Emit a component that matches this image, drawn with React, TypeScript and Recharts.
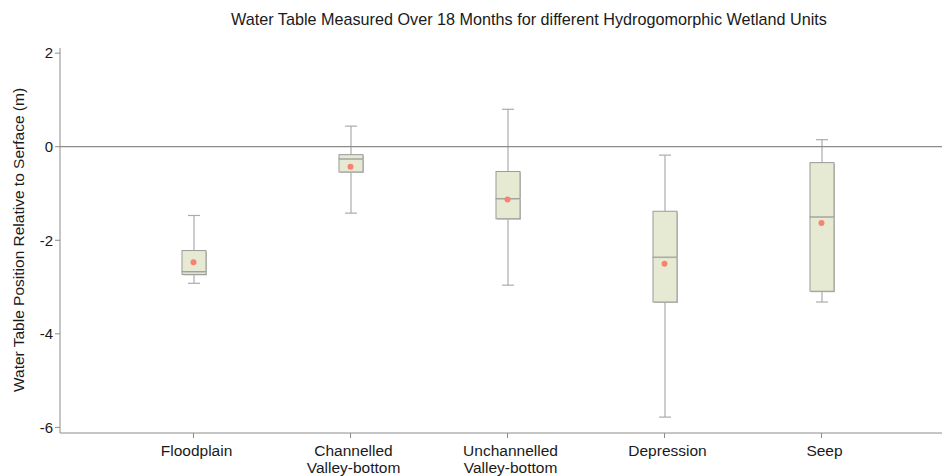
import React from "react";
import { ComposedChart, Bar, Line, XAxis, YAxis, ReferenceLine } from "recharts";

// Wetland unit names (two-line labels split on \n)
const units = [
  "Floodplain",
  "Channelled\nValley-bottom",
  "Unchannelled\nValley-bottom",
  "Depression",
  "Seep",
];

// Water table stats (m, relative to surface)
const whiskerLow = [-2.92, -1.42, -2.96, -5.78, -3.32];
const quartile1 = [-2.73, -0.54, -1.54, -3.32, -3.09];
const median = [-2.67, -0.26, -1.11, -2.36, -1.5];
const quartile3 = [-2.22, -0.17, -0.53, -1.38, -0.34];
const whiskerHigh = [-1.47, 0.44, 0.8, -0.18, 0.15];
const mean = [-2.47, -0.43, -1.13, -2.5, -1.63];

const yTicks = [-6, -4, -2, 0, 2];

const data = units.map((name, i) => ({
  name,
  whisker: [whiskerLow[i], whiskerHigh[i]],
  lower: [quartile1[i], median[i]],
  upper: [median[i], quartile3[i]],
  mean: mean[i],
}));

const FONT = "'Liberation Sans', Arial, sans-serif";
const AXIS = "#8c8c8c";
const BOX_FILL = "#e6ead3";
const BOX_STROKE = "#9a9a9a";
const WHISKER = "#ababab";
const MEAN_DOT = "#f7826f";
const pad = { left: 55, right: 42 };

const Whisker = (props: any) => {
  const { x, y, width, height } = props;
  const top = Math.min(y, y + height);
  const bottom = Math.max(y, y + height);
  const cx = x + width / 2;
  return (
    <g stroke={WHISKER} strokeWidth={1.2}>
      <line x1={cx} x2={cx} y1={top} y2={bottom} />
      <line x1={x} x2={x + width} y1={top} y2={top} />
      <line x1={x} x2={x + width} y1={bottom} y2={bottom} />
    </g>
  );
};

const BoxPart = (props: any) => {
  const { x, y, width, height } = props;
  const top = Math.min(y, y + height);
  const h = Math.abs(height);
  return (
    <g>
      <rect x={x + 1} y={top + 1} width={width} height={h} fill="#c4c4bc" />
      <rect x={x} y={top} width={width} height={h} fill={BOX_FILL} stroke={BOX_STROKE} strokeWidth={1} />
    </g>
  );
};

const UnitTick = (props: any) => {
  const { x, y, payload } = props;
  const lines = String(payload.value).split("\n");
  return (
    <text x={x + 3} y={y + 16} textAnchor="middle" fill="#1a1a1a" fontSize={15.5} fontFamily={FONT}>
      {lines.map((l, i) => (
        <tspan key={i} x={x + 3} dy={i === 0 ? 0 : 17}>
          {l}
        </tspan>
      ))}
    </text>
  );
};

const YLabel = () => (
  <text
    x={18}
    y={240}
    transform="rotate(-90 18 240)"
    textAnchor="middle"
    dominantBaseline="central"
    fill="#1a1a1a"
    fontSize={15.5}
    fontFamily={FONT}
  >
    Water Table Position Relative to Serface (m)
  </text>
);

export default function App() {
  return (
    <div style={{ position: "absolute", left: 0, top: 0, width: 942, height: 476, background: "#fff" }}>
      <div
        style={{
          position: "absolute",
          top: 9,
          left: 529,
          transform: "translateX(-50%)",
          whiteSpace: "nowrap",
          fontFamily: FONT,
          fontSize: 16.2,
          lineHeight: "20px",
          color: "#1a1a1a",
        }}
      >
        Water Table Measured Over 18 Months for different Hydrogomorphic Wetland Units
      </div>
      <ComposedChart
        width={942}
        height={476}
        data={data}
        margin={{ top: 48, right: 0, bottom: 3, left: 8 }}
      >
        <XAxis
          xAxisId="main"
          dataKey="name"
          padding={pad}
          height={40}
          stroke={AXIS}
          tickSize={5}
          interval={0}
          tick={<UnitTick />}
        />
        <XAxis xAxisId="whisk" dataKey="name" padding={pad} height={0} hide />
        <XAxis xAxisId="low" dataKey="name" padding={pad} height={0} hide />
        <XAxis xAxisId="up" dataKey="name" padding={pad} height={0} hide />
        <YAxis
          type="number"
          domain={[-6.12, 2.11]}
          ticks={yTicks}
          allowDataOverflow
          width={52}
          stroke={AXIS}
          tickSize={5}
          tick={{ fill: "#1a1a1a", fontSize: 15, fontFamily: FONT }}
          label={{ content: () => <YLabel /> }}
        />
        <ReferenceLine xAxisId="main" y={0} stroke={AXIS} strokeWidth={1.2} />
        <Bar xAxisId="whisk" dataKey="whisker" barSize={12} shape={<Whisker />} isAnimationActive={false} />
        <Bar xAxisId="low" dataKey="lower" barSize={24} shape={<BoxPart />} isAnimationActive={false} />
        <Bar xAxisId="up" dataKey="upper" barSize={24} shape={<BoxPart />} isAnimationActive={false} />
        <Line
          xAxisId="main"
          dataKey="mean"
          stroke="none"
          dot={{ r: 3, fill: MEAN_DOT, stroke: "none" }}
          activeDot={false}
          isAnimationActive={false}
        />
      </ComposedChart>
    </div>
  );
}
